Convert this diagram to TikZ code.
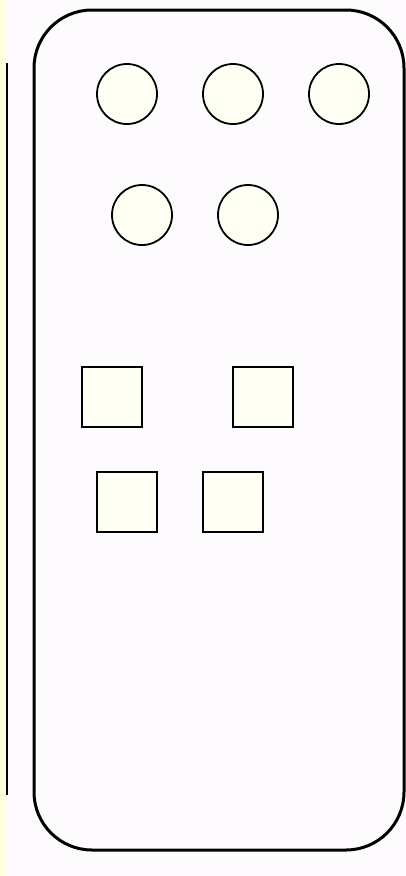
\documentclass[tikz,border=0pt]{standalone}
\definecolor{bgc}{HTML}{FDFBFE}
\definecolor{strip}{HTML}{FFFFDC}
\definecolor{shapefill}{HTML}{FFFFF4}
\begin{document}
\begin{tikzpicture}[x=1pt,y=-1pt,
  btn/.style={draw=black,line width=1.8pt,fill=shapefill,circle,minimum size=60pt,inner sep=0pt},
  key/.style={draw=black,line width=1.8pt,fill=shapefill,rectangle,minimum size=60pt,inner sep=0pt},
  body/.style={draw=black,line width=3pt,rounded corners=58pt,fill=bgc}]
\useasboundingbox (0,0) rectangle (406,876);
\fill[bgc] (0,0) rectangle (406,876);
\fill[strip] (0,0) rectangle (6,876);
\draw[line width=2.4pt] (7.2,63) -- (7.2,795);
\draw[body] (34,10) rectangle (404,850);
\node[btn] (c1) at (127,94) {};
\node[btn] (c2) at (233,94) {};
\node[btn] (c3) at (339,94) {};
\node[btn] (c4) at (142,215) {};
\node[btn] (c5) at (248,215) {};
\node[key] (s1) at (112,397) {};
\node[key] (s2) at (263,397) {};
\node[key] (s3) at (127,502) {};
\node[key] (s4) at (233,502) {};
\end{tikzpicture}
\end{document}
